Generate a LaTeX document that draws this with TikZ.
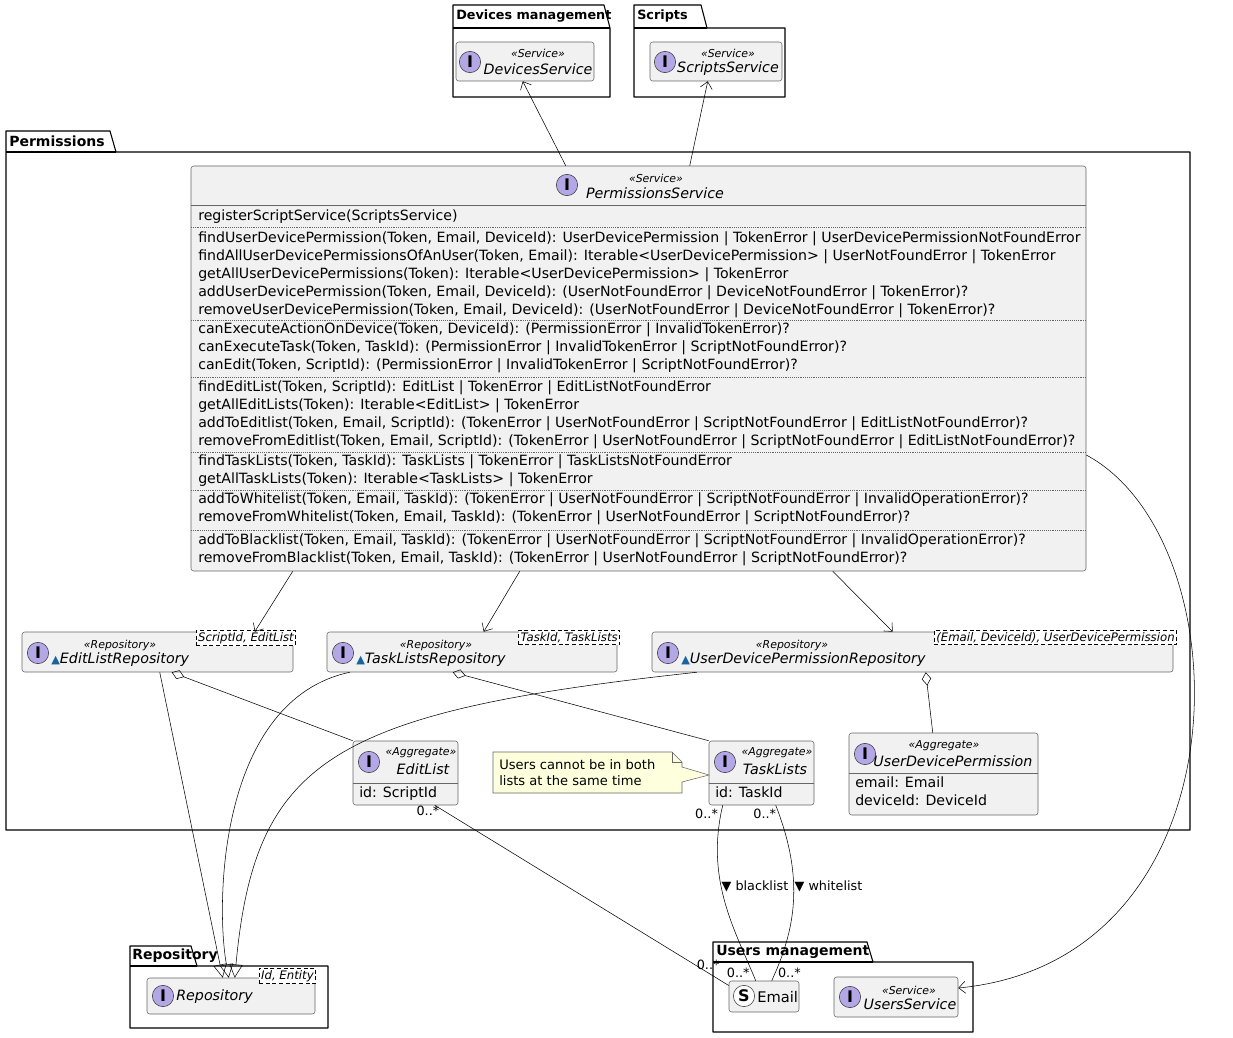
\documentclass[tikz,border=0pt]{standalone}
\usepackage{fontspec}
\setmainfont{DejaVu Sans}
\usetikzlibrary{arrows.meta,fit,calc}
\definecolor{umlgray}{HTML}{F1F1F1}
\definecolor{umlicon}{HTML}{B4A7E5}
\definecolor{umlnote}{HTML}{FEFFDD}
\definecolor{umltri}{HTML}{1963A0}
\newcommand{\methods}{\fontsize{10.6}{13.5}\selectfont}
\begin{document}
\begin{tikzpicture}[x=0.75pt, y=-0.75pt, >={Straight Barb[length=5pt,width=9pt]},
    cls/.style={
        % the class box
        draw=black!60, fill=umlgray, rounded corners=2pt, inner sep=0pt},
    icon/.style={circle, draw=black!80, fill=umlicon, minimum size=16pt,
        inner sep=0pt, font=\bfseries\fontsize{12}{12}\selectfont},
    stereo/.style={font=\itshape\fontsize{8.2}{8.2}\selectfont, inner sep=0pt},
    title/.style={font=\itshape\fontsize{10.7}{10.7}\selectfont, inner sep=0pt},
    member/.style={font=\methods, align=left, anchor=north west, inner sep=0pt},
    tmpl/.style={draw, densely dashed, fill=white, inner sep=1.5pt,
        font=\itshape\fontsize{8.8}{8.8}\selectfont},
    pkg/.style={thick, fill=white, line join=round},
    pkgname/.style={font=\bfseries\fontsize{10.5}{10.5}\selectfont, anchor=west, inner sep=0pt},
    link/.style={thin},
    inherit/.style={thin, -{Triangle[open,length=10pt,width=10pt]}},
    aggr/.style={thin, {Diamond[open,length=10pt,width=7pt]}-},
    mult/.style={font=\fontsize{9.6}{9.6}\selectfont, inner sep=1pt}]
\useasboundingbox (0,0) rectangle (1233,1038);
% packages
\draw[pkg] (453,28) -- (453,5) -- (604,5) -- (610,28) -- (610,97) -- (453,97) -- cycle;
\draw[thick] (453,28) -- (610,28);
\node[pkgname, font=\bfseries\fontsize{9.6}{9.6}\selectfont] at (456,16) {Devices management};
\draw[pkg] (634,28) -- (634,5) -- (701,5) -- (707,28) -- (785,28) -- (785,97) -- (634,97) -- cycle;
\draw[thick] (634,28) -- (707,28);
\node[pkgname, font=\bfseries\fontsize{9.6}{9.6}\selectfont] at (637,16) {Scripts};
\draw[pkg] (6,152) -- (6,131) -- (110,131) -- (116,152) -- (1190,152) -- (1190,830) -- (6,830) -- cycle;
\draw[thick] (6,152) -- (116,152);
\node[pkgname] at (9,141) {Permissions};
\draw[pkg] (130,966) -- (130,946) -- (191,946) -- (197,966) -- (328,966) -- (328,1028) -- (130,1028) -- cycle;
\draw[thick] (130,966) -- (197,966);
\node[pkgname] at (132,956) {Repository};
\draw[pkg] (713,962) -- (713,942) -- (867,942) -- (873,962) -- (973,962) -- (973,1032) -- (713,1032) -- cycle;
\draw[thick] (713,962) -- (873,962);
\node[pkgname] at (716,952) {Users management};

% services outside
\node[cls, fit={(456,42)(594,81)}] (devices) {};
\node[icon] at (470,62) {I};
\node[stereo] at (538,53) {«Service»};
\node[title] at (538,69) {DevicesService};
\node[cls, fit={(650,42)(782,81)}] (scripts) {};
\node[icon] at (665,62) {I};
\node[stereo] at (728,53) {«Service»};
\node[title] at (728,69) {ScriptsService};

% permissions service
\node[cls, fit={(191,166)(1086,571)}] (perm) {};
\node[icon] at (567,185) {I};
\node[stereo] at (656,178) {«Service»};
\node[title] at (655,193) {PermissionsService};
\draw[black!60] (191,205) -- (1086,205);
\foreach \y in {227,320,377,452,490,530}
    \draw[black!60, densely dotted] (191,\y) -- (1086,\y);
\node[member] at (198,209) {registerScriptService(ScriptsService)};
\node[member] at (198,231) {findUserDevicePermission(Token, Email, DeviceId): UserDevicePermission | TokenError | UserDevicePermissionNotFoundError\\
findAllUserDevicePermissionsOfAnUser(Token, Email): Iterable<UserDevicePermission> | UserNotFoundError | TokenError\\
getAllUserDevicePermissions(Token): Iterable<UserDevicePermission> | TokenError\\
addUserDevicePermission(Token, Email, DeviceId): (UserNotFoundError | DeviceNotFoundError | TokenError)?\\
removeUserDevicePermission(Token, Email, DeviceId): (UserNotFoundError | DeviceNotFoundError | TokenError)?};
\node[member] at (198,322) {canExecuteActionOnDevice(Token, DeviceId): (PermissionError | InvalidTokenError)?\\
canExecuteTask(Token, TaskId): (PermissionError | InvalidTokenError | ScriptNotFoundError)?\\
canEdit(Token, ScriptId): (PermissionError | InvalidTokenError | ScriptNotFoundError)?};
\node[member] at (198,380) {findEditList(Token, ScriptId): EditList | TokenError | EditListNotFoundError\\
getAllEditLists(Token): Iterable<EditList> | TokenError\\
addToEditlist(Token, Email, ScriptId): (TokenError | UserNotFoundError | ScriptNotFoundError | EditListNotFoundError)?\\
removeFromEditlist(Token, Email, ScriptId): (TokenError | UserNotFoundError | ScriptNotFoundError | EditListNotFoundError)?};
\node[member] at (198,454) {findTaskLists(Token, TaskId): TaskLists | TokenError | TaskListsNotFoundError\\
getAllTaskLists(Token): Iterable<TaskLists> | TokenError};
\node[member] at (198,492) {addToWhitelist(Token, Email, TaskId): (TokenError | UserNotFoundError | ScriptNotFoundError | InvalidOperationError)?\\
removeFromWhitelist(Token, Email, TaskId): (TokenError | UserNotFoundError | ScriptNotFoundError)?};
\node[member] at (198,533) {addToBlacklist(Token, Email, TaskId): (TokenError | UserNotFoundError | ScriptNotFoundError | InvalidOperationError)?\\
removeFromBlacklist(Token, Email, TaskId): (TokenError | UserNotFoundError | ScriptNotFoundError)?};

% repositories
\node[cls, fit={(22,632)(293,672)}] (editrepo) {};
\node[icon] at (38,653) {I};
\node[stereo] at (120,645) {«Repository»};
\node[title, anchor=west] at (51,660) {\textcolor{umltri}{\fontsize{8.5}{8.5}\selectfont\upshape▲}EditListRepository};
\node[tmpl, anchor=north east] at (296,630) {ScriptId, EditList};
\node[cls, fit={(327,632)(617,672)}] (taskrepo) {};
\node[icon] at (343,653) {I};
\node[stereo] at (436,645) {«Repository»};
\node[title, anchor=west] at (356,660) {\textcolor{umltri}{\fontsize{8.5}{8.5}\selectfont\upshape▲}TaskListsRepository};
\node[tmpl, anchor=north east] at (620,630) {TaskId, TaskLists};
\node[cls, fit={(652,632)(1173,672)}] (udprepo) {};
\node[icon] at (668,653) {I};
\node[stereo] at (792,645) {«Repository»};
\node[title, anchor=west] at (681,660) {\textcolor{umltri}{\fontsize{8.5}{8.5}\selectfont\upshape▲}UserDevicePermissionRepository};
\node[tmpl, anchor=north east] at (1177,630) {(Email, DeviceId), UserDevicePermission};

% aggregates
\node[cls, fit={(353,741)(458,805)}] (editlist) {};
\node[icon] at (369,762) {I};
\node[stereo] at (421,753) {«Aggregate»};
\node[title] at (423,769) {EditList};
\draw[black!60] (353,783) -- (458,783);
\node[member] at (359,786) {id: ScriptId};
\node[cls, fit={(709,741)(814,805)}] (tasklists) {};
\node[icon] at (725,762) {I};
\node[stereo] at (777,753) {«Aggregate»};
\node[title] at (775,769) {TaskLists};
\draw[black!60] (709,783) -- (814,783);
\node[member] at (715,786) {id: TaskId};
\node[cls, fit={(849,733)(1038,815)}] (udp) {};
\node[icon] at (865,754) {I};
\node[stereo] at (944,746) {«Aggregate»};
\node[title] at (953,761) {UserDevicePermission};
\draw[black!60] (849,773) -- (1038,773);
\node[member] at (855,776) {email: Email\\deviceId: DeviceId};

% note
\draw[black!60, fill=umlnote] (493,752) -- (672,752) -- (682,762) -- (682,767) -- (709,775)
    -- (682,782) -- (682,793) -- (493,793) -- cycle;
\draw[black!60] (672,752) -- (672,762) -- (682,762);
\node[member, font=\fontsize{9.8}{12}\selectfont] at (499,759) {Users cannot be in both\\lists at the same time};

% repository package and users management
\node[cls, fit={(147,978)(315,1014)}] (repo) {};
\node[icon] at (163,996) {I};
\node[title, anchor=west] at (176,997) {Repository};
\node[tmpl, anchor=north east] at (316,968) {Id, Entity};
\node[cls, fit={(729,981)(799,1012)}] (email) {};
\node[circle, draw=black!80, fill=white, minimum size=16pt, inner sep=0pt,
    font=\bfseries\fontsize{12}{12}\selectfont] at (744,996) {S};
\node[font=\fontsize{11}{11}\selectfont, anchor=west, inner sep=0pt] at (757,997) {Email};
\node[cls, fit={(834,977)(958,1017)}] (users) {};
\node[icon] at (850,997) {I};
\node[stereo] at (909,990) {«Service»};
\node[title] at (910,1004) {UsersService};
\node[mult, anchor=west] (blk) at (720,886) {▼ blacklist};
\node[mult, anchor=west] (wht) at (793,886) {▼ whitelist};

% connectors
\draw[link, ->] ($(perm.north west)+(375,0)$) -- ($(devices.south west)+(67,0)$);
\draw[link, ->] ($(perm.north west)+(499,0)$) -- ($(scripts.south west)+(58,0)$);
\draw[link, ->] ($(perm.south west)+(102,0)$) -- ($(editrepo.north west)+(233,0)$);
\draw[link, ->] ($(perm.south west)+(329,0)$) -- ($(taskrepo.north west)+(157,0)$);
\draw[link, ->] ($(perm.south west)+(642,0)$) -- ($(udprepo.north west)+(241,0)$);
\draw[link, ->] (perm.east |- 0,455) .. controls (1245,540) and (1250,960) .. ($(users.east)+(0,-9)$);
\draw[inherit] ($(editrepo.south west)+(138,0)$) -- ($(repo.north west)+(76,0)$);
\draw[inherit] ($(taskrepo.south west)+(23,0)$) .. controls (220,700) and (215,900) .. ($(repo.north west)+(82,0)$);
\draw[inherit] ($(udprepo.south west)+(45,0)$) .. controls (330,712) and (255,760) .. ($(repo.north west)+(88,0)$);
\draw[aggr] ($(editrepo.south west)+(150,0)$) -- (editlist.north west);
\draw[aggr] ($(taskrepo.south west)+(126,0)$) -- ($(tasklists.north west)+(0,0)$);
\draw[aggr] ($(udprepo.south west)+(274,0)$) -- ($(udp.north west)+(84,0)$);
\draw[link] ($(editlist.south west)+(82,0)$) -- ($(email.west)+(0,-11)$)
    node[mult, pos=0.03, left=2pt] {0..*} node[mult, pos=0.93, above=1pt] {0..*};
\draw[link] ($(tasklists.south west)+(14,0)$) .. controls (705,880) and (735,930) .. ($(email.north west)+(27,0)$)
    node[mult, pos=0.04, left=1pt] {0..*} node[mult, pos=0.95, left=1pt] {0..*};
\draw[link] ($(tasklists.south west)+(67,0)$) .. controls (805,880) and (795,930) .. ($(email.north west)+(43,0)$)
    node[mult, pos=0.04, left=1pt] {0..*} node[mult, pos=0.95, right=1pt] {0..*};
\end{tikzpicture}
\end{document}
